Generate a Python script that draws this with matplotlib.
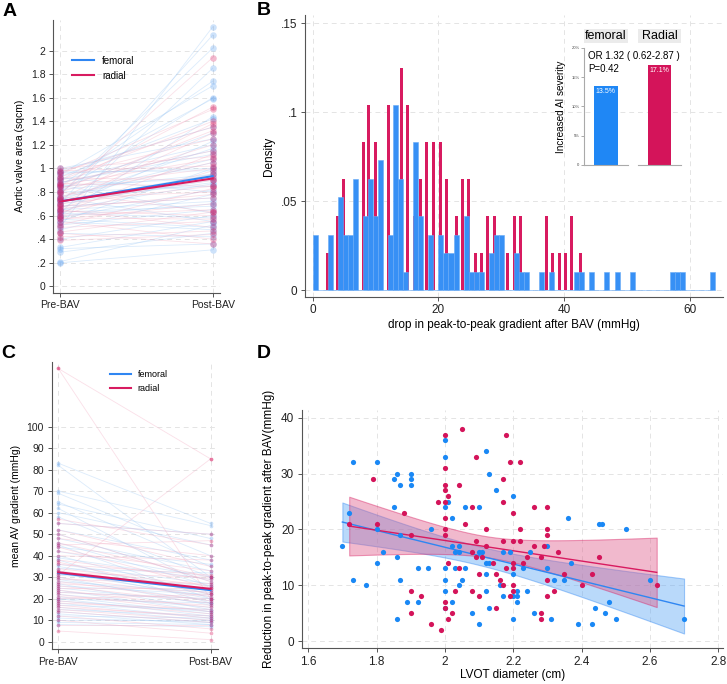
import numpy as np
import matplotlib.pyplot as plt
from matplotlib.patches import Rectangle

plt.rcParams['font.family'] = ['Liberation Sans', 'DejaVu Sans']

BLUE = "#2f86f2"
RED = "#d81b60"
GRID = "#e4e4e4"

# ---- panel A: aortic valve area pre / post BAV
ava_fem_pre = [0.20, 0.21, 0.29, 0.32, 0.33, 0.40, 0.45, 0.48, 0.50, 0.52, 0.55, 0.57, 0.58,
               0.60, 0.60, 0.62, 0.63, 0.65, 0.66, 0.68, 0.70, 0.70, 0.72, 0.73, 0.75, 0.76,
               0.78, 0.80, 0.80, 0.82, 0.83, 0.85, 0.86, 0.88, 0.90, 0.90, 0.92, 0.93, 0.95,
               0.96, 0.98, 1.00, 0.55, 0.65, 0.75, 0.85, 0.62, 0.72, 0.88, 0.97]
ava_fem_post = [0.31, 0.52, 0.45, 0.36, 0.55, 0.60, 0.42, 0.78, 2.20, 0.65, 1.00, 0.50, 0.82,
                1.44, 0.70, 1.85, 0.68, 0.87, 1.23, 0.75, 2.13, 0.90, 0.95, 1.17, 0.55, 1.08,
                2.02, 0.85, 1.60, 0.95, 1.30, 1.74, 0.62, 1.12, 1.59, 1.20, 0.80, 1.42, 1.70,
                1.00, 1.35, 1.25, 0.48, 0.72, 1.05, 0.92, 0.58, 0.88, 1.15, 0.98]
ava_rad_pre = [0.39, 0.42, 0.45, 0.46, 0.50, 0.52, 0.55, 0.57, 0.60, 0.60, 0.62, 0.64, 0.65,
               0.67, 0.68, 0.70, 0.70, 0.72, 0.74, 0.75, 0.76, 0.78, 0.80, 0.80, 0.82, 0.84,
               0.85, 0.87, 0.88, 0.90, 0.92, 0.93, 0.95, 0.97, 0.98, 1.00, 0.58, 0.66, 0.73, 0.86]
ava_rad_post = [0.44, 0.47, 0.36, 0.63, 0.55, 0.83, 0.40, 0.70, 0.98, 0.65, 1.12, 0.60, 0.50,
                0.95, 0.75, 1.30, 0.85, 0.90, 1.38, 0.80, 1.05, 1.94, 1.20, 0.63, 1.32, 1.00,
                1.52, 0.85, 1.15, 1.40, 0.90, 1.25, 1.50, 1.35, 1.02, 1.10, 0.57, 0.78, 0.93, 1.08]
ava_fem_mean = [0.72, 0.935]
ava_rad_mean = [0.72, 0.915]

# ---- panel B: histogram of gradient drop
fem_binw = 0.8
fem_counts = [3, 0, 0, 3, 0, 5, 3, 3, 6, 0, 4, 6, 4, 7, 0, 3, 10, 6, 1, 0,
              8, 4, 0, 3, 0, 3, 2, 2, 3, 0, 4, 1, 1, 1, 0, 2, 3, 3, 0, 0,
              2, 1, 1, 0, 0, 1, 0, 1, 0, 0, 0, 0, 1, 1, 0, 1, 0, 0, 1, 0,
              1, 0, 0, 1, 0, 0, 0, 0, 0, 0, 0, 1, 1, 1, 0, 0, 0, 0, 0, 1]
rad_binw = 0.585
rad_pos = [2.1, 3.7, 4.7, 7.8, 8.7, 9.7, 11.85, 13.9, 14.9, 16.0, 16.9, 17.9, 19.0, 20.1,
           21.0, 22.6, 23.6, 24.6, 25.6, 26.6, 27.6, 28.7, 30.8, 31.9, 32.8, 36.9, 37.9,
           39.0, 39.95, 40.95, 42.4]
rad_counts = [1, 2, 3, 4, 5, 4, 5, 6, 5, 2, 3, 4, 4, 4, 3, 2, 3, 3, 1, 1, 2, 2, 1, 2, 2,
              2, 1, 1, 1, 2, 1]
ai_groups = ["femoral", "Radial"]
ai_rates = [13.5, 17.1]

# ---- panel C: mean AV gradient pre / post
grad_fem_pre = [83, 82, 70, 69, 65, 64, 62, 60, 58, 55, 52, 50, 48, 46, 45, 44, 42, 40, 39, 38,
                36, 35, 34, 33, 32, 31, 30, 29, 28, 27, 26, 25, 24, 23, 22, 21, 20, 20, 19, 18,
                17, 16, 15, 14, 13, 12, 11, 10, 9, 8]
grad_fem_post = [55, 30, 54, 40, 35, 48, 25, 45, 30, 50, 38, 28, 33, 26, 20, 36, 30, 22, 29, 18,
                 27, 24, 32, 20, 21, 26, 17, 19, 23, 15, 22, 18, 14, 20, 16, 13, 12, 18, 14, 11,
                 15, 10, 12, 9, 8, 11, 9, 10, 8, 7]
grad_rad_pre = [127, 127, 57, 55, 52, 50, 48, 46, 45, 44, 42, 40, 38, 37, 36, 34, 33, 32, 31, 30,
                29, 28, 27, 26, 25, 24, 23, 22, 21, 20, 19, 18, 17, 16, 15, 14, 12, 10, 8, 5]
grad_rad_post = [85, 20, 45, 50, 35, 28, 40, 30, 47, 25, 33, 38, 29, 22, 31, 26, 24, 30, 85, 21,
                 27, 19, 23, 18, 25, 16, 20, 14, 17, 22, 13, 15, 11, 12, 10, 9, 6, 4, 8, 1]
grad_fem_mean = [32.0, 24.0]
grad_rad_mean = [32.3, 24.6]

# ---- panel D: LVOT diameter vs gradient reduction
lvot_fem = [1.70, 1.72, 1.73, 1.73, 1.77, 1.80, 1.80, 1.80, 1.82, 1.85, 1.85, 1.86, 1.86, 1.86,
            1.87, 1.87, 1.87, 1.89, 1.90, 1.90, 1.90, 1.92, 1.92, 1.95, 1.96, 2.00, 2.00, 2.00,
            2.00, 2.00, 2.00, 2.00, 2.01, 2.02, 2.02, 2.02, 2.03, 2.03, 2.04, 2.04, 2.04, 2.05,
            2.06, 2.06, 2.08, 2.10, 2.10, 2.10, 2.11, 2.12, 2.12, 2.12, 2.12, 2.13, 2.13, 2.13,
            2.15, 2.16, 2.17, 2.17, 2.19, 2.20, 2.20, 2.20, 2.20, 2.21, 2.21, 2.21, 2.23, 2.24,
            2.25, 2.26, 2.30, 2.30, 2.31, 2.32, 2.35, 2.36, 2.37, 2.39, 2.43, 2.44, 2.45, 2.46,
            2.47, 2.48, 2.50, 2.53, 2.60, 2.70]
drop_fem = [17, 23, 32, 11, 10, 32, 20, 14, 16, 24, 29, 30, 15, 4,
            28, 19, 11, 7, 30, 29, 28, 13, 7, 13, 20, 36, 33, 24,
            13, 11, 9, 6, 25, 22, 17, 7, 16, 13, 17, 16, 10, 11,
            24, 13, 5, 24, 16, 3, 16, 34, 14, 12, 9, 30, 14, 6,
            27, 10, 16, 8, 16, 26, 12, 8, 4, 9, 7, 8, 13, 9,
            16, 5, 17, 13, 4, 11, 11, 22, 14, 3, 3, 6, 21, 21,
            5, 7, 4, 20, 11, 4]
lvot_rad = [1.72, 1.79, 1.80, 1.88, 1.90, 1.90, 1.90, 1.93, 1.96, 1.98, 1.99, 2.00, 2.00, 2.00,
            2.00, 2.00, 2.00, 2.00, 2.00, 2.00, 2.00, 2.01, 2.01, 2.01, 2.02, 2.03, 2.04, 2.04,
            2.05, 2.06, 2.08, 2.08, 2.08, 2.09, 2.09, 2.09, 2.10, 2.10, 2.11, 2.12, 2.12, 2.14,
            2.15, 2.15, 2.16, 2.17, 2.17, 2.17, 2.17, 2.18, 2.18, 2.19, 2.19, 2.20, 2.20, 2.20,
            2.20, 2.20, 2.20, 2.22, 2.22, 2.22, 2.23, 2.24, 2.26, 2.26, 2.28, 2.28, 2.28, 2.29,
            2.30, 2.30, 2.30, 2.30, 2.30, 2.32, 2.33, 2.35, 2.40, 2.43, 2.45, 2.62]
drop_rad = [21, 29, 21, 23, 19, 9, 5, 8, 3, 25, 2, 37, 31, 28,
            27, 25, 22, 20, 19, 7, 6, 26, 14, 4, 5, 9, 28, 13,
            38, 21, 24, 16, 9, 33, 18, 15, 12, 8, 15, 20, 17, 14,
            12, 6, 11, 29, 25, 18, 10, 37, 13, 32, 8, 23, 18, 14,
            13, 10, 9, 32, 20, 18, 14, 15, 24, 17, 15, 5, 4, 17,
            24, 20, 19, 11, 8, 9, 16, 12, 10, 12, 15, 10]


def style_axes(ax):
    for s in ["top", "right"]:
        ax.spines[s].set_visible(False)
    for s in ["left", "bottom"]:
        ax.spines[s].set_color("#555555")
        ax.spines[s].set_linewidth(0.8)
    ax.tick_params(length=3, width=0.7, colors="#555555", labelcolor="#222222", labelsize=7.5,
                   pad=2.5)
    ax.grid(True, color=GRID, linestyle=(0, (5, 4)), linewidth=0.7)
    ax.set_axisbelow(True)


def paired(ax, pre, post, col, mcol, ms, alpha_l, alpha_m):
    for a, b in zip(pre, post):
        ax.plot([0, 1], [a, b], color=col, lw=0.6, alpha=alpha_l, zorder=1)
    ax.scatter(np.zeros(len(pre)), pre, s=ms, color=mcol, alpha=alpha_m, lw=0, zorder=2)
    ax.scatter(np.ones(len(post)), post, s=ms, color=mcol, alpha=alpha_m, lw=0, zorder=2)


def fit_ci(x, y):
    x = np.asarray(x, float)
    y = np.asarray(y, float)
    b1, b0 = np.polyfit(x, y, 1)
    xs = np.linspace(x.min(), x.max(), 60)
    n = len(x)
    s = np.sqrt(np.sum((y - (b0 + b1 * x)) ** 2) / (n - 2))
    se = s * np.sqrt(1 / n + (xs - x.mean()) ** 2 / np.sum((x - x.mean()) ** 2))
    yh = b0 + b1 * xs
    return xs, yh, yh - 1.99 * se, yh + 1.99 * se


fig = plt.figure(figsize=(7.27, 6.84), dpi=100)

# ---------------- A
axA = fig.add_axes([0.073, 0.572, 0.23, 0.399])
style_axes(axA)
paired(axA, ava_fem_pre, ava_fem_post, "#9cc8f5", "#5c9ff0", 22, 0.35, 0.3)
paired(axA, ava_rad_pre, ava_rad_post, "#f2a9c0", RED, 22, 0.35, 0.3)
axA.plot([0, 1], ava_fem_mean, color=BLUE, lw=1.5, zorder=3, label="femoral")
axA.plot([0, 1], ava_rad_mean, color=RED, lw=1.5, zorder=3, label="radial")
axA.set_xlim(-0.046, 1.05)
axA.set_ylim(-0.054, 2.26)
axA.set_xticks([0, 1], ["Pre-BAV", "Post-BAV"])
axA.set_yticks(np.arange(0, 2.01, 0.2),
               ["0", ".2", ".4", ".6", ".8", "1", "1.2", "1.4", "1.6", "1.8", "2"])
axA.set_ylabel("Aortic valve area (sqcm)", fontsize=7.5)
axA.legend(loc="upper left", bbox_to_anchor=(0.06, 0.9), frameon=False, fontsize=7,
           handlelength=2.3)

# ---------------- B
axB = fig.add_axes([0.4195, 0.566, 0.575, 0.412])
style_axes(axB)
rad_den = np.array(rad_counts) / (sum(rad_counts) * rad_binw)
fem_den = np.array(fem_counts) / (sum(fem_counts) * fem_binw)
fem_edges = np.arange(len(fem_counts)) * fem_binw
axB.bar(rad_pos, rad_den, width=rad_binw * 0.85, align="edge", color=RED, zorder=2)
axB.bar(fem_edges, fem_den, width=fem_binw, align="edge", color="#3790f5",
        edgecolor="#66aaf7", lw=0.4, zorder=3)
axB.set_xlim(-1.22, 65.25)
axB.set_ylim(-0.0038, 0.1547)
axB.set_xticks([0, 20, 40, 60])
axB.set_yticks([0, 0.05, 0.1, 0.15], ["0", ".05", ".1", ".15"])
axB.tick_params(labelsize=8.5)
axB.set_xlabel("drop in peak-to-peak gradient after BAV (mmHg)", fontsize=8.5, labelpad=2)
axB.set_ylabel("Density", fontsize=8.5)

# inset bar chart (two facets with grey strips)
inset_x = [0.803, 0.8776]
inset_w = [0.0605, 0.0591]
ai_cols = ["#1f87f5", "#d4145a"]
for i in range(2):
    ax = fig.add_axes([inset_x[i], 0.759, inset_w[i], 0.171])
    ax.bar([0], [ai_rates[i]], width=0.55, color=ai_cols[i])
    ax.text(0, ai_rates[i] - 0.4, f"{ai_rates[i]}%", color="white", ha="center", va="top",
            fontsize=5)
    ax.set_xlim(-0.5, 0.5)
    ax.set_ylim(0, 20)
    ax.set_xticks([])
    for s in ["top", "right"]:
        ax.spines[s].set_visible(False)
    ax.spines["bottom"].set_color("#aaaaaa")
    ax.spines["left"].set_color("#aaaaaa")
    ax.set_facecolor("none")
    if i == 0:
        ax.set_yticks([0, 5, 10, 15, 20], ["0", "5%", "10%", "15%", "20%"])
        ax.tick_params(axis="y", labelsize=3, length=2, width=0.5, colors="#888888",
                       labelcolor="#444444", pad=1)
        ax.set_ylabel("Increased AI severity", fontsize=7.2, labelpad=4)
    else:
        ax.set_yticks([])
        ax.spines["left"].set_visible(False)
    strip = Rectangle((inset_x[i], 0.937), inset_w[i], 0.021, transform=fig.transFigure,
                      facecolor="#ebebeb", edgecolor="none", zorder=5)
    fig.add_artist(strip)
    fig.text(inset_x[i] + inset_w[i] / 2, 0.9475, ai_groups[i], fontsize=9,
             ha="center", va="center", zorder=6)
fig.text(0.8085, 0.918, "OR 1.32 ( 0.62-2.87 )", fontsize=7, va="center")
fig.text(0.8085, 0.899, "P=0.42", fontsize=7, va="center")

# ---------------- C
axC = fig.add_axes([0.0711, 0.0507, 0.229, 0.42])
style_axes(axC)
paired(axC, grad_fem_pre, grad_fem_post, "#a8cef5", "#6aa8f0", 7, 0.4, 0.35)
paired(axC, grad_rad_pre, grad_rad_post, "#f4b0c6", RED, 7, 0.4, 0.35)
axC.plot([0, 1], grad_fem_mean, color=BLUE, lw=1.5, zorder=3, label="femoral")
axC.plot([0, 1], grad_rad_mean, color=RED, lw=1.5, zorder=3, label="radial")
axC.set_xlim(-0.043, 1.05)
axC.set_ylim(-3.5, 130)
axC.set_xticks([0, 1], ["Pre-BAV", "Post-BAV"])
axC.set_yticks(np.arange(0, 101, 10))
axC.set_ylabel("mean AV gradient (mmHg)", fontsize=7.5)
axC.legend(loc="upper left", bbox_to_anchor=(0.3, 1.0), frameon=False, fontsize=6.5,
           handlelength=2.3)

# ---------------- D
axD = fig.add_axes([0.415, 0.0522, 0.5795, 0.3484])
style_axes(axD)
for lx, ly, col, fc in [(lvot_fem, drop_fem, "#2f86f2", "#5aa5f5"),
                        (lvot_rad, drop_rad, "#d81b60", "#df5a88")]:
    xs, yh, lo, hi = fit_ci(lx, ly)
    axD.fill_between(xs, lo, hi, color=fc, alpha=0.42, lw=0.8, edgecolor=col, zorder=2)
    axD.plot(xs, yh, color=col, lw=1.0, zorder=3)
axD.scatter(lvot_fem, drop_fem, s=14, color="#1a88f5", lw=0, zorder=4)
axD.scatter(lvot_rad, drop_rad, s=14, color="#d4145a", lw=0, zorder=4)
axD.set_xlim(1.581, 2.814)
axD.set_ylim(-1.3, 41.4)
axD.set_xticks(np.arange(1.6, 2.81, 0.2), ["1.6", "1.8", "2", "2.2", "2.4", "2.6", "2.8"])
axD.set_yticks([0, 10, 20, 30, 40])
axD.tick_params(labelsize=8.5)
axD.set_xlabel("LVOT diameter (cm)", fontsize=8.5, labelpad=1)
axD.set_ylabel("Reduction in peak-to-peak gradient after BAV(mmHg)", fontsize=8.5)

for lab, x, y in [("A", 0.004, 0.995), ("B", 0.353, 0.997), ("C", 0.002, 0.495),
                  ("D", 0.353, 0.495)]:
    fig.text(x, y, lab, fontsize=14, fontweight="bold", va="top")

fig.savefig("out.png", dpi=100)
